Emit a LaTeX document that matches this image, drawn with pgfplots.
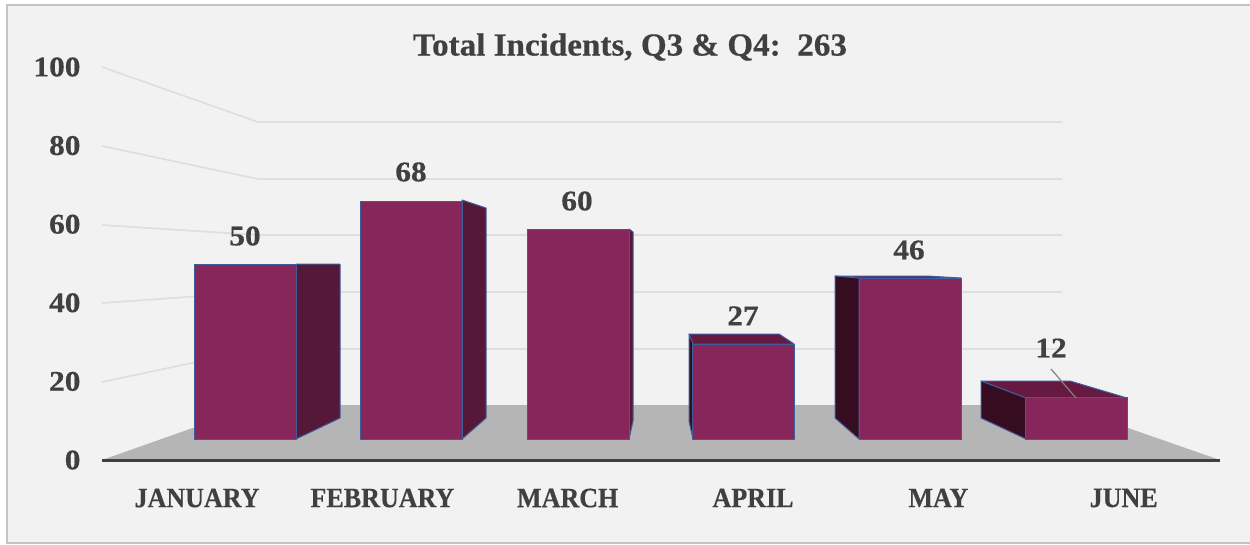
\documentclass[border=0pt]{standalone}
\usepackage{fontspec}
\setmainfont{Liberation Serif}
\newfontfamily\digf[BoldFeatures={FakeStretch=1.1,FakeBold=0.5}]{Liberation Serif}
\newfontfamily\capf[BoldFeatures={FakeStretch=0.93,FakeBold=0.5}]{Liberation Serif}
\newfontfamily\titf[BoldFeatures={FakeStretch=1.035,FakeBold=0.5}]{Liberation Serif}
\usepackage{pgfplots}
\pgfplotsset{compat=1.18}
\definecolor{panel}{HTML}{F2F2F2}
\definecolor{frame}{HTML}{C4C4C4}
\definecolor{grid}{HTML}{DEDEDE}
\definecolor{floor}{HTML}{B5B5B5}
\definecolor{axisdark}{HTML}{404040}
\definecolor{txt}{HTML}{404040}
\definecolor{front}{HTML}{87265A}
\definecolor{sideR}{HTML}{561838}
\definecolor{sideL}{HTML}{360C20}
\definecolor{topf}{HTML}{661A42}
\definecolor{edge}{HTML}{3F5C9C}
\newcommand\lab{\digf\fontsize{28.5}{30}\selectfont\bfseries\color{txt}}
\newcommand\mon{\capf\fontsize{28}{30}\selectfont\bfseries\color{txt}}
\pgfplotsset{
  px/.style={scale only axis, width=1250pt, height=544pt, at={(0pt,0pt)}, anchor=south west,
    hide axis, clip=false, xmin=0, xmax=1250},
  gl/.style={draw=grid, line width=1.6pt},
  face/.style={fill=#1, draw=edge, line width=1pt, line join=round},
}
\begin{document}
\begin{tikzpicture}
\path[use as bounding box] (0pt,0pt) rectangle (1250pt,544pt);

% backdrop and 3d parts, in pixel coordinates of the picture
\begin{axis}[px, ymin=0, ymax=544, y dir=reverse]
\addplot[fill=panel, draw=frame, line width=1.6pt] coordinates {(7,5) (1262,5) (1262,543) (7,543)} --cycle;
\addplot[gl] coordinates {(102,67) (258,122) (1062,122)};
\addplot[gl] coordinates {(102,146) (258,179) (1062,179)};
\addplot[gl] coordinates {(102,225) (258,235) (1062,235)};
\addplot[gl] coordinates {(102,303) (258,292) (1062,292)};
\addplot[gl] coordinates {(102,382) (258,349) (1062,349)};
\addplot[fill=floor, draw=none] coordinates {(102,460) (258,405) (1062,405) (1220,460)} --cycle;
% january, february, march: right sides
\addplot[face=sideR] coordinates {(296,264) (340,264) (340,418) (296,439)} --cycle;
\addplot[face=sideR] coordinates {(462,200) (486,208) (486,418) (462,439)} --cycle;
\addplot[face=sideR] coordinates {(629,229) (633,232) (633,421) (629,439)} --cycle;
% april, may, june: left sides and tops
\addplot[face=topf] coordinates {(689,334) (779,334) (794,344) (693,344)} --cycle;
\addplot[face=sideL] coordinates {(689,334) (693,344) (693,439) (689,421)} --cycle;
\addplot[face=topf] coordinates {(835,276) (927,276) (961,278) (859,278)} --cycle;
\addplot[face=sideL] coordinates {(835,276) (859,278) (859,439) (835,418)} --cycle;
\addplot[face=topf] coordinates {(981,381) (1070,381) (1127,398) (1026,398)} --cycle;
\addplot[face=sideL] coordinates {(981,381) (1026,398) (1026,439) (981,418)} --cycle;
\node[font=\titf\fontsize{32}{34}\selectfont\bfseries\color{txt}] at (axis cs:630,47) {Total Incidents, Q3 \& Q4:\ \ 263};
\end{axis}

% front faces and data labels: 3.5 px per incident, base at 439 px
\begin{axis}[px, ymin=-30, ymax=125.43]
\addplot[ybar, bar width=102pt, bar shift=0pt, fill=front, draw=edge, line width=1pt]
  coordinates {(245,50) (411,68) (578,60) (743,27) (910,46) (1076,12)};
\addplot[draw=none, mark=none, point meta=explicit symbolic, nodes near coords,
  nodes near coords align=center, every node near coord/.append style={font=\lab}]
  table[meta=v] {
x y v
245 58.0 50
411 76.3 68
577 68.0 60
743 35.2 27
909 54.0 46
1051 26.0 12
};
\end{axis}

% leader line of the june label
\begin{axis}[px, ymin=0, ymax=544, y dir=reverse]
\addplot[draw=gray, line width=1.2pt] coordinates {(1051,369) (1076,398)};
\end{axis}

% value axis and months
\begin{axis}[scale only axis, width=1118pt, height=393pt, at={(102pt,84pt)}, anchor=south west,
  ymin=0, ymax=100, ytick={0,20,...,100},
  xmin=-0.513, xmax=5.52, xtick={0,...,5},
  xticklabels={JANUARY,FEBRUARY,MARCH,APRIL,MAY,JUNE},
  axis x line=bottom, axis y line*=left,
  x axis line style={draw=axisdark, line width=3pt, -},
  y axis line style={draw=none, -},
  tick style={draw=none},
  /pgf/number format/assume math mode=true,
  xticklabel style={font=\mon, yshift=-23pt},
  yticklabel style={font=\lab, xshift=-18pt},
]
\end{axis}
\end{tikzpicture}
\end{document}
